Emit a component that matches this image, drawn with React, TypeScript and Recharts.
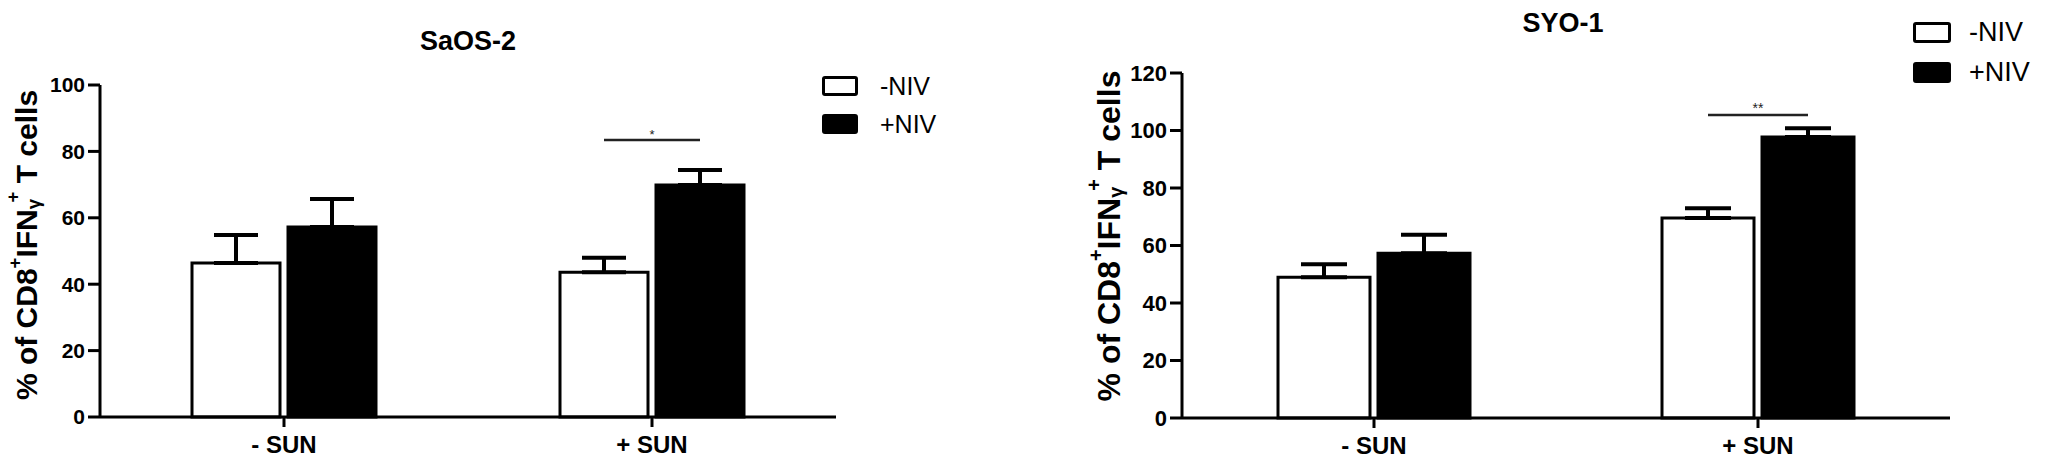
import React from 'react';
import { BarChart, Bar, XAxis, YAxis, ErrorBar, Legend, LabelList } from 'recharts';

// ---------- data ----------
const categories = ['- SUN', '+ SUN'];
const seriesNames = ['-NIV', '+NIV'];
const seriesFills = ['#ffffff', '#000000'];

const saosMinusNiv = [46.4, 43.6];
const saosMinusNivErr = [8.4, 4.4];
const saosPlusNiv = [57.2, 69.9];
const saosPlusNivErr = [8.5, 4.5];
const saosSigY: (number | null)[] = [null, 83.4];
const saosSigLabel = ['', '*'];
const saosTicks = [0, 20, 40, 60, 80, 100];

const syoMinusNiv = [49.0, 69.6];
const syoMinusNivErr = [4.5, 3.4];
const syoPlusNiv = [57.3, 97.7];
const syoPlusNivErr = [6.4, 3.1];
const syoSigY: (number | null)[] = [null, 105.4];
const syoSigLabel = ['', '**'];
const syoTicks = [0, 20, 40, 60, 80, 100, 120];

const FONT = '"Liberation Sans", Arial, Helvetica, sans-serif';

const buildData = (
  minus: number[], minusErr: number[], plus: number[], plusErr: number[], sigY: (number | null)[]
) =>
  categories.map((cat, i) => ({
    cat,
    minus: minus[i],
    minusErr: [0, minusErr[i]],
    plus: plus[i],
    plusErr: [0, plusErr[i]],
    sigY: sigY[i],
  }));

const YLabelText = ({ cx, cy, size }: { cx: number; cy: number; size: number }) => (
  <text
    transform={`translate(${cx},${cy}) rotate(-90)`}
    textAnchor="middle"
    dominantBaseline="central"
    fontFamily={FONT}
    fontWeight="bold"
    fontSize={size}
    fill="#000"
  >
    <tspan>% of CD8</tspan>
    <tspan fontSize={size * 0.62} dy={-size * 0.4}>+</tspan>
    <tspan dy={size * 0.4}>IFN</tspan>
    <tspan fontSize={size * 0.62} dy={size * 0.22}>γ</tspan>
    <tspan fontSize={size * 0.62} dy={-size * 0.68} dx={-size * 0.12}>+</tspan>
    <tspan dy={size * 0.46}>{' T cells'}</tspan>
  </text>
);

const makeSig = (values: number[], sigY: (number | null)[], sigLabel: string[], gap: number, fontSize: number) =>
  (props: any) => {
    let idx = props.index;
    if (idx == null) idx = sigY.indexOf(props.value);
    if (idx == null || idx < 0 || sigY[idx] == null) return null;
    const vb = props.viewBox && props.viewBox.width != null ? props.viewBox : props;
    const x = Number(vb.x), y = Number(vb.y), w = Number(vb.width), h = Number(vb.height);
    const ppu = h / values[idx];
    const ys = y + h - (sigY[idx] as number) * ppu;
    const c2 = x + w / 2;
    const c1 = c2 - w - gap;
    return (
      <g>
        <line x1={c1} x2={c2} y1={ys} y2={ys} stroke="#222" strokeWidth={2.5} />
        <text x={(c1 + c2) / 2} y={ys - 1.5} textAnchor="middle" fontFamily={FONT} fontSize={fontSize} fill="#222">
          {sigLabel[idx]}
        </text>
      </g>
    );
  };

const LegendBox = (props: any) => {
  const { payload, boxW, boxH, rowH, gap, fontSize } = props;
  const items = [...(payload || [])].sort(
    (a: any, b: any) => seriesNames.indexOf(a.value) - seriesNames.indexOf(b.value)
  );
  return (
    <div style={{ fontFamily: FONT }}>
      {items.map((e: any, i: number) => {
        const k = seriesNames.indexOf(e.value);
        return (
          <div key={i} style={{ display: 'flex', alignItems: 'center', height: rowH }}>
            <div
              style={{
                width: boxW,
                height: boxH,
                boxSizing: 'border-box',
                border: '3px solid #000',
                borderRadius: 3,
                background: seriesFills[k >= 0 ? k : i],
              }}
            />
            <span style={{ marginLeft: gap, fontSize, color: '#000', lineHeight: 1 }}>{e.value}</span>
          </div>
        );
      })}
    </div>
  );
};

type PanelProps = {
  left: number;
  width: number;
  title: string;
  titleX: number;
  titleY: number;
  titleSize: number;
  ylabX: number;
  ylabY: number;
  ylabSize: number;
  plotTop: number;
  plotBottom: number;
  plotLeft: number;
  plotRight: number;
  data: any[];
  plusValues: number[];
  sigY: (number | null)[];
  sigLabel: string[];
  sigSize: number;
  ticks: number[];
  yMax: number;
  barSize: number;
  barGap: number;
  capHalf: number;
  tickFont: number;
  xFont: number;
  legendLeft: number;
  legendTop: number;
  legendRow: number;
  legendBoxW: number;
  legendBoxH: number;
  legendFont: number;
  legendGap: number;
};

const Panel = (p: PanelProps) => {
  const H = 462;
  return (
    <div style={{ position: 'absolute', left: p.left, top: 0, width: p.width, height: H }}>
      <BarChart
        width={p.width}
        height={H}
        data={p.data}
        margin={{ top: p.plotTop, right: p.width - p.plotRight, bottom: 0, left: 0 }}
        barSize={p.barSize}
        barGap={p.barGap}
      >
        <XAxis
          dataKey="cat"
          height={H - p.plotBottom}
          axisLine={{ stroke: '#000', strokeWidth: 3 }}
          tickLine={{ stroke: '#000', strokeWidth: 3 }}
          tickSize={10}
          tickMargin={9}
          tick={{ fill: '#000', fontSize: p.xFont, fontWeight: 'bold', fontFamily: FONT }}
        />
        <YAxis
          width={p.plotLeft}
          domain={[0, p.yMax]}
          ticks={p.ticks}
          interval={0}
          axisLine={{ stroke: '#000', strokeWidth: 3 }}
          tickLine={{ stroke: '#000', strokeWidth: 3 }}
          tickSize={12}
          tickMargin={3}
          tick={{ fill: '#000', fontSize: p.tickFont, fontWeight: 'bold', fontFamily: FONT }}
        />
        <Legend
          layout="vertical"
          align="center"
          verticalAlign="middle"
          itemSorter={null as any}
          wrapperStyle={{ left: p.legendLeft, top: p.legendTop, width: 'auto', height: 'auto' }}
          content={(lp: any) => (
            <LegendBox
              payload={lp.payload}
              boxW={p.legendBoxW}
              boxH={p.legendBoxH}
              rowH={p.legendRow}
              gap={p.legendGap}
              fontSize={p.legendFont}
            />
          )}
        />
        <Bar dataKey="minus" name={seriesNames[0]} fill={seriesFills[0]} stroke="#000" strokeWidth={3} isAnimationActive={false}>
          <ErrorBar dataKey="minusErr" width={p.capHalf} stroke="#000" strokeWidth={4} direction="y" />
        </Bar>
        <Bar dataKey="plus" name={seriesNames[1]} fill={seriesFills[1]} stroke="#000" strokeWidth={3} isAnimationActive={false}>
          <ErrorBar dataKey="plusErr" width={p.capHalf} stroke="#000" strokeWidth={4} direction="y" />
          <LabelList
            dataKey="sigY"
            content={makeSig(p.plusValues, p.sigY, p.sigLabel, p.barGap, p.sigSize)}
          />
        </Bar>
      </BarChart>
      <svg
        width={p.width}
        height={H}
        style={{ position: 'absolute', left: 0, top: 0, pointerEvents: 'none' }}
      >
        <text
          x={p.titleX}
          y={p.titleY}
          textAnchor="middle"
          dominantBaseline="central"
          fontFamily={FONT}
          fontWeight="bold"
          fontSize={p.titleSize}
          fill="#000"
        >
          {p.title}
        </text>
        <YLabelText cx={p.ylabX} cy={p.ylabY} size={p.ylabSize} />
      </svg>
    </div>
  );
};

export default function App() {
  const saosData = buildData(saosMinusNiv, saosMinusNivErr, saosPlusNiv, saosPlusNivErr, saosSigY);
  const syoData = buildData(syoMinusNiv, syoMinusNivErr, syoPlusNiv, syoPlusNivErr, syoSigY);
  return (
    <div style={{ position: 'absolute', left: 0, top: 0, width: 2055, height: 462, background: '#fff', overflow: 'hidden' }}>
      <Panel
        left={0}
        width={1027}
        title="SaOS-2"
        titleX={468}
        titleY={41}
        titleSize={27}
        ylabX={26}
        ylabY={245}
        ylabSize={30}
        plotTop={85}
        plotBottom={417}
        plotLeft={100}
        plotRight={836}
        data={saosData}
        plusValues={saosPlusNiv}
        sigY={saosSigY}
        sigLabel={saosSigLabel}
        sigSize={13}
        ticks={saosTicks}
        yMax={100}
        barSize={88}
        barGap={8}
        capHalf={22}
        tickFont={21}
        xFont={24}
        legendLeft={822}
        legendTop={67}
        legendRow={38}
        legendBoxW={36}
        legendBoxH={20}
        legendFont={25}
        legendGap={22}
      />
      <Panel
        left={1027}
        width={1028}
        title="SYO-1"
        titleX={536}
        titleY={23}
        titleSize={27}
        ylabX={82}
        ylabY={236}
        ylabSize={32}
        plotTop={73}
        plotBottom={418}
        plotLeft={155}
        plotRight={923}
        data={syoData}
        plusValues={syoPlusNiv}
        sigY={syoSigY}
        sigLabel={syoSigLabel}
        sigSize={14}
        ticks={syoTicks}
        yMax={120}
        barSize={92}
        barGap={8}
        capHalf={23}
        tickFont={22}
        xFont={24}
        legendLeft={886}
        legendTop={13}
        legendRow={39.5}
        legendBoxW={38}
        legendBoxH={21}
        legendFont={27}
        legendGap={18}
      />
    </div>
  );
}
